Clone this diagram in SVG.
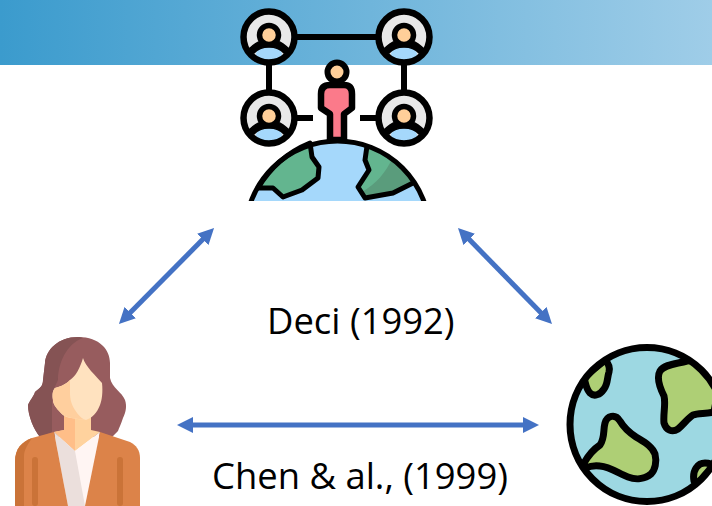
<svg xmlns="http://www.w3.org/2000/svg" width="712" height="506" viewBox="0 0 712 506">
<style>
.k{stroke:#000;fill:none;stroke-linejoin:round}
.lbl{font-family:"Open Sans","Liberation Sans",sans-serif;font-size:36.4px;fill:#000}
.conn{stroke:#4472c4;stroke-width:5;fill:none;marker-start:url(#h);marker-end:url(#h)}
.land{fill:#aecf75;stroke:#000;stroke-width:7;stroke-linejoin:round}
</style>
<defs>
<linearGradient id="bar" x1="0" x2="1" y1="0" y2="0"><stop offset="0" stop-color="#3b9bcd"/><stop offset="1" stop-color="#9fcde8"/></linearGradient>
<marker id="h" viewBox="0 0 10 10" refX="2.500" refY="5" markerWidth="16" markerHeight="16" markerUnits="userSpaceOnUse" orient="auto-start-reverse"><path d="M0 0L10 5L0 10Z" fill="#4472c4"/></marker>
<g id="user">
<circle r="25" fill="#e8e8e8"/>
<ellipse cy="17" rx="13" ry="7" fill="#a5d8fb"/>
<path d="M-21 13C-16 8-11 5-8 4H8C11 5 16 8 21 13L15 16C8 8-8 8-15 16Z" fill="#000" stroke="#000" stroke-width="1.500" stroke-linejoin="round"/>
<circle cy="-2" r="9.500" fill="#ffcf99" stroke="#000" stroke-width="5.500"/>
<circle r="25.500" class="k" stroke-width="6.500"/>
</g>
<clipPath id="earthClip"><rect x="240" y="130" width="195" height="71"/></clipPath>
<clipPath id="globeClip"><circle cx="647" cy="424.500" r="77"/></clipPath>
</defs>
<rect id="banner" x="0" y="0" width="712" height="65" fill="url(#bar)"/>
<g id="network-node">
<path class="k" stroke-width="6" d="M295 37H378M269 63V92M404 63V92M295 118H313M360 118H378"/>
<use href="#user" x="269" y="37"/>
<use href="#user" x="404" y="37"/>
<use href="#user" x="269" y="118"/>
<use href="#user" x="404" y="118"/>
<path d="M330 140V114L321 108V94Q321 85 330 85H344Q352 85 352 94V108L344 114V140Z" fill="#fb7a8a" stroke="#000" stroke-width="6.500" stroke-linejoin="round"/>
<circle cx="337" cy="72" r="9.500" fill="#ffcf99" stroke="#000" stroke-width="6"/>
<g clip-path="url(#earthClip)">
<circle cx="337.500" cy="233" r="92" fill="#a5d8fb"/>
<path d="M310 143L312 157L319 167L318 178L302 190L283 197L273 188L258 188C270 168 288 152 310 143Z" fill="#63b58f" stroke="#000" stroke-width="5" stroke-linejoin="round"/>
<path d="M367 146L365 160L369 170L358 187L365 198L393 193L413 183C402 166 386 153 367 146Z" fill="#63b58f"/>
<path d="M413 183C405 171 398 164 392 159C386 172 376 184 362 192L365 198L393 193Z" fill="#5a9c7c"/>
<path class="k" stroke-width="5" d="M367 146L365 160L369 170L358 187L365 198L393 193L413 183"/>
<circle cx="337.500" cy="233" r="92" class="k" stroke-width="5"/>
</g>
</g>
<g id="person-node">
<path d="M78 337C100 337 110 350 110 363V378C112 388 122 392 125 400C127 406 126 412 123 418C121 424 119 428 118 431L112 437H40C34 430 28 416 28 405C30 400 34 396 35 392C40 388 43 386 43 380L45 363C46 350 58 337 78 337Z" fill="#975c5e"/>
<path d="M78 337C58 337 46 350 45 363L43 380C43 386 40 388 35 392C34 396 30 400 28 405C28 416 34 430 40 437L52 432V393L58 380C58 364 66 344 83 338C81 337 80 337 78 337Z" fill="#855354"/>
<path d="M64 412V430L54 432L75 451L100 432L91 430V416Z" fill="#ffd29e"/>
<path d="M64 412V430L54 432L75 451V414Z" fill="#ffbe88"/>
<path d="M83 358C85 366 96 376 102 383C103 392 102 400 100 405C97 413 92 418 86 420C78 419 66 418 63 415C58 410 53 405 53 400C52 394 53 390 55 388C62 386 66 384 70 380C76 376 80 368 83 358Z" fill="#ffe2bf"/>
<path d="M70 380C66 384 62 386 55 388C53 390 52 394 53 400C53 405 58 410 63 415C68 418 78 419 86 420C82 419 78 415 75 410C71 404 70 398 70 393Z" fill="#ffcf9e"/>
<path d="M75 451L100 432L85 506H79Z" fill="#fff5f3"/>
<path d="M54 432L75 451L85 506H68Z" fill="#ebdfdc"/>
<path d="M54 432L32 438C22 442 15 448 15 462V506H68Z" fill="#dc8349"/>
<path d="M100 432L130 442C136 445 140 450 140 458V506H85Z" fill="#dc8349"/>
<path d="M32 438C22 442 15 448 15 462V506H24V456C24 450 28 444 32 438Z" fill="#ca7338"/>
<rect x="32" y="457" width="6" height="49" rx="3" fill="#ca7338"/>
<rect x="117" y="457" width="6" height="49" rx="3" fill="#ca7338"/>
</g>
<g id="globe-node">
<circle cx="647" cy="424.500" r="77" fill="#9dd8e2"/>
<g clip-path="url(#globeClip)">
<path class="land" d="M605 360C609 364 610 368 609 372C607 378 608 384 604 389C600 395 594 397 590 393C586 389 586 384 584 378C590 372 598 366 605 360Z"/>
<path class="land" d="M687 361C676 364 665 364 660 371C656 378 660 388 664 396C666 404 663 414 664 423C666 430 672 433 678 429C684 424 688 418 693 415C698 413 706 414 714 412L720 380L700 360Z"/>
<path class="land" d="M584 463C588 456 594 449 600 445C605 438 603 430 605 423C607 416 615 413 620 421C624 428 630 433 636 437C644 442 652 446 655 454C657 462 655 470 651 474C645 479 636 480 628 477C618 473 610 467 600 466C594 465 590 466 585 468Z"/>
<path class="land" d="M694 481C692 470 698 463 705 463C710 463 714 465 716 470L700 486Z"/>
</g>
<circle cx="647" cy="424.500" r="77" class="k" stroke-width="7"/>
</g>
<g id="connectors">
<path class="conn" d="M127.400 315.400L205.600 236.600"/>
<path class="conn" d="M466.400 236.600L543.600 315.400"/>
<path class="conn" d="M189 425H527"/>
</g>
<g id="labels">
<text class="lbl" x="267" y="334">Deci (1992)</text>
<text class="lbl" x="212" y="489">Chen &amp; al., (1999)</text>
</g>
</svg>
